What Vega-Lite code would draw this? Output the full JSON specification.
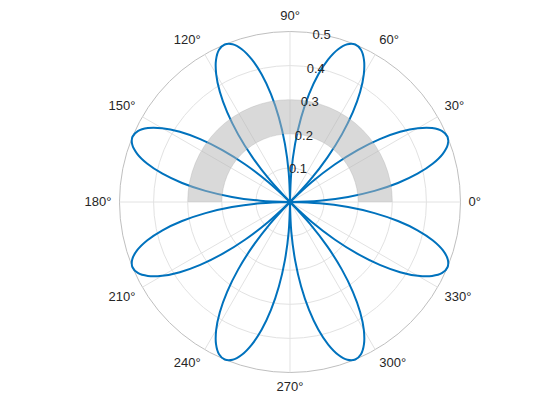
{
  "$schema": "https://vega.github.io/schema/vega-lite/v6.json",
  "width": 560,
  "height": 420,
  "autosize": "none",
  "padding": 0,
  "background": "white",
  "config": {"view": {"stroke": null}, "text": {"font": "Liberation Sans", "fontSize": 13, "color": "#262626"}},
  "datasets": {
    "circles": [{"r": 0.1}, {"r": 0.2}, {"r": 0.3}, {"r": 0.4}, {"r": 0.5}],
    "spokes": [
      {"x": -0.5, "y": 0, "x2": 0.5, "y2": 0},
      {"x": -0.43301, "y": -0.25, "x2": 0.43301, "y2": 0.25},
      {"x": -0.25, "y": -0.43301, "x2": 0.25, "y2": 0.43301},
      {"x": 0, "y": -0.5, "x2": 0, "y2": 0.5},
      {"x": 0.25, "y": -0.43301, "x2": -0.25, "y2": 0.43301},
      {"x": 0.43301, "y": -0.25, "x2": -0.43301, "y2": 0.25}
    ],
    "region": [{"t1": 0, "t2": 180, "r1": 0.2, "r2": 0.3}],
    "tlabels": [
      {"a": 0, "t": "0°", "x": 0.5235, "y": 0},
      {"a": 30, "t": "30°", "x": 0.4534, "y": 0.2618},
      {"a": 60, "t": "60°", "x": 0.2618, "y": 0.4534},
      {"a": 90, "t": "90°", "x": 0, "y": 0.5235},
      {"a": 120, "t": "120°", "x": -0.2618, "y": 0.4534},
      {"a": 150, "t": "150°", "x": -0.4534, "y": 0.2618},
      {"a": 180, "t": "180°", "x": -0.5235, "y": 0},
      {"a": 210, "t": "210°", "x": -0.4534, "y": -0.2618},
      {"a": 240, "t": "240°", "x": -0.2618, "y": -0.4534},
      {"a": 270, "t": "270°", "x": 0, "y": -0.5235},
      {"a": 300, "t": "300°", "x": 0.2618, "y": -0.4534},
      {"a": 330, "t": "330°", "x": 0.4534, "y": -0.2618}
    ],
    "rlabels": [
      {"t": "0.1", "x": 0.017365, "y": 0.098481},
      {"t": "0.2", "x": 0.03473, "y": 0.19696},
      {"t": "0.3", "x": 0.05209, "y": 0.29544},
      {"t": "0.4", "x": 0.06946, "y": 0.39392},
      {"t": "0.5", "x": 0.08682, "y": 0.4924}
    ],
    "rose": [
      {"p":0,"i":0,"x":0,"y":0},{"p":0,"i":1,"x":0.08674,"y":0.00379},{"p":0,"i":2,"x":0.17036,"y":0.01491},{"p":0,"i":3,"x":0.24786,"y":0.03263},{"p":0,"i":4,"x":0.31651,"y":0.05581},{"p":0,"i":5,"x":0.37394,"y":0.0829},{"p":0,"i":6,"x":0.41826,"y":0.11207},{"p":0,"i":7,"x":0.44811,"y":0.14129},{"p":0,"i":8,"x":0.4627,"y":0.16841},{"p":0,"i":9,"x":0.46194,"y":0.19134},{"p":0,"i":10,"x":0.44627,"y":0.2081},{"p":0,"i":11,"x":0.41676,"y":0.21695},{"p":0,"i":12,"x":0.375,"y":0.21651},{"p":0,"i":13,"x":0.32304,"y":0.2058},{"p":0,"i":14,"x":0.26327,"y":0.18434},{"p":0,"i":15,"x":0.19834,"y":0.15219},{"p":0,"i":16,"x":0.131,"y":0.10992},{"p":0,"i":17,"x":0.06401,"y":0.05865},{"p":0,"i":18,"x":0,"y":0},
      {"p":1,"i":0,"x":0,"y":0},{"p":1,"i":1,"x":0.00379,"y":0.08674},{"p":1,"i":2,"x":0.01491,"y":0.17036},{"p":1,"i":3,"x":0.03263,"y":0.24786},{"p":1,"i":4,"x":0.05581,"y":0.31651},{"p":1,"i":5,"x":0.0829,"y":0.37394},{"p":1,"i":6,"x":0.11207,"y":0.41826},{"p":1,"i":7,"x":0.14129,"y":0.44811},{"p":1,"i":8,"x":0.16841,"y":0.4627},{"p":1,"i":9,"x":0.19134,"y":0.46194},{"p":1,"i":10,"x":0.2081,"y":0.44627},{"p":1,"i":11,"x":0.21695,"y":0.41676},{"p":1,"i":12,"x":0.21651,"y":0.375},{"p":1,"i":13,"x":0.2058,"y":0.32304},{"p":1,"i":14,"x":0.18434,"y":0.26327},{"p":1,"i":15,"x":0.15219,"y":0.19834},{"p":1,"i":16,"x":0.10992,"y":0.131},{"p":1,"i":17,"x":0.05865,"y":0.06401},{"p":1,"i":18,"x":0,"y":0},
      {"p":2,"i":0,"x":0,"y":0},{"p":2,"i":1,"x":-0.00379,"y":0.08674},{"p":2,"i":2,"x":-0.01491,"y":0.17036},{"p":2,"i":3,"x":-0.03263,"y":0.24786},{"p":2,"i":4,"x":-0.05581,"y":0.31651},{"p":2,"i":5,"x":-0.0829,"y":0.37394},{"p":2,"i":6,"x":-0.11207,"y":0.41826},{"p":2,"i":7,"x":-0.14129,"y":0.44811},{"p":2,"i":8,"x":-0.16841,"y":0.4627},{"p":2,"i":9,"x":-0.19134,"y":0.46194},{"p":2,"i":10,"x":-0.2081,"y":0.44627},{"p":2,"i":11,"x":-0.21695,"y":0.41676},{"p":2,"i":12,"x":-0.21651,"y":0.375},{"p":2,"i":13,"x":-0.2058,"y":0.32304},{"p":2,"i":14,"x":-0.18434,"y":0.26327},{"p":2,"i":15,"x":-0.15219,"y":0.19834},{"p":2,"i":16,"x":-0.10992,"y":0.131},{"p":2,"i":17,"x":-0.05865,"y":0.06401},{"p":2,"i":18,"x":0,"y":0},
      {"p":3,"i":0,"x":0,"y":0},{"p":3,"i":1,"x":-0.08674,"y":0.00379},{"p":3,"i":2,"x":-0.17036,"y":0.01491},{"p":3,"i":3,"x":-0.24786,"y":0.03263},{"p":3,"i":4,"x":-0.31651,"y":0.05581},{"p":3,"i":5,"x":-0.37394,"y":0.0829},{"p":3,"i":6,"x":-0.41826,"y":0.11207},{"p":3,"i":7,"x":-0.44811,"y":0.14129},{"p":3,"i":8,"x":-0.4627,"y":0.16841},{"p":3,"i":9,"x":-0.46194,"y":0.19134},{"p":3,"i":10,"x":-0.44627,"y":0.2081},{"p":3,"i":11,"x":-0.41676,"y":0.21695},{"p":3,"i":12,"x":-0.375,"y":0.21651},{"p":3,"i":13,"x":-0.32304,"y":0.2058},{"p":3,"i":14,"x":-0.26327,"y":0.18434},{"p":3,"i":15,"x":-0.19834,"y":0.15219},{"p":3,"i":16,"x":-0.131,"y":0.10992},{"p":3,"i":17,"x":-0.06401,"y":0.05865},{"p":3,"i":18,"x":0,"y":0},
      {"p":4,"i":0,"x":0,"y":0},{"p":4,"i":1,"x":-0.08674,"y":-0.00379},{"p":4,"i":2,"x":-0.17036,"y":-0.01491},{"p":4,"i":3,"x":-0.24786,"y":-0.03263},{"p":4,"i":4,"x":-0.31651,"y":-0.05581},{"p":4,"i":5,"x":-0.37394,"y":-0.0829},{"p":4,"i":6,"x":-0.41826,"y":-0.11207},{"p":4,"i":7,"x":-0.44811,"y":-0.14129},{"p":4,"i":8,"x":-0.4627,"y":-0.16841},{"p":4,"i":9,"x":-0.46194,"y":-0.19134},{"p":4,"i":10,"x":-0.44627,"y":-0.2081},{"p":4,"i":11,"x":-0.41676,"y":-0.21695},{"p":4,"i":12,"x":-0.375,"y":-0.21651},{"p":4,"i":13,"x":-0.32304,"y":-0.2058},{"p":4,"i":14,"x":-0.26327,"y":-0.18434},{"p":4,"i":15,"x":-0.19834,"y":-0.15219},{"p":4,"i":16,"x":-0.131,"y":-0.10992},{"p":4,"i":17,"x":-0.06401,"y":-0.05865},{"p":4,"i":18,"x":0,"y":0},
      {"p":5,"i":0,"x":0,"y":0},{"p":5,"i":1,"x":-0.00379,"y":-0.08674},{"p":5,"i":2,"x":-0.01491,"y":-0.17036},{"p":5,"i":3,"x":-0.03263,"y":-0.24786},{"p":5,"i":4,"x":-0.05581,"y":-0.31651},{"p":5,"i":5,"x":-0.0829,"y":-0.37394},{"p":5,"i":6,"x":-0.11207,"y":-0.41826},{"p":5,"i":7,"x":-0.14129,"y":-0.44811},{"p":5,"i":8,"x":-0.16841,"y":-0.4627},{"p":5,"i":9,"x":-0.19134,"y":-0.46194},{"p":5,"i":10,"x":-0.2081,"y":-0.44627},{"p":5,"i":11,"x":-0.21695,"y":-0.41676},{"p":5,"i":12,"x":-0.21651,"y":-0.375},{"p":5,"i":13,"x":-0.2058,"y":-0.32304},{"p":5,"i":14,"x":-0.18434,"y":-0.26327},{"p":5,"i":15,"x":-0.15219,"y":-0.19834},{"p":5,"i":16,"x":-0.10992,"y":-0.131},{"p":5,"i":17,"x":-0.05865,"y":-0.06401},{"p":5,"i":18,"x":0,"y":0},
      {"p":6,"i":0,"x":0,"y":0},{"p":6,"i":1,"x":0.00379,"y":-0.08674},{"p":6,"i":2,"x":0.01491,"y":-0.17036},{"p":6,"i":3,"x":0.03263,"y":-0.24786},{"p":6,"i":4,"x":0.05581,"y":-0.31651},{"p":6,"i":5,"x":0.0829,"y":-0.37394},{"p":6,"i":6,"x":0.11207,"y":-0.41826},{"p":6,"i":7,"x":0.14129,"y":-0.44811},{"p":6,"i":8,"x":0.16841,"y":-0.4627},{"p":6,"i":9,"x":0.19134,"y":-0.46194},{"p":6,"i":10,"x":0.2081,"y":-0.44627},{"p":6,"i":11,"x":0.21695,"y":-0.41676},{"p":6,"i":12,"x":0.21651,"y":-0.375},{"p":6,"i":13,"x":0.2058,"y":-0.32304},{"p":6,"i":14,"x":0.18434,"y":-0.26327},{"p":6,"i":15,"x":0.15219,"y":-0.19834},{"p":6,"i":16,"x":0.10992,"y":-0.131},{"p":6,"i":17,"x":0.05865,"y":-0.06401},{"p":6,"i":18,"x":0,"y":0},
      {"p":7,"i":0,"x":0,"y":0},{"p":7,"i":1,"x":0.08674,"y":-0.00379},{"p":7,"i":2,"x":0.17036,"y":-0.01491},{"p":7,"i":3,"x":0.24786,"y":-0.03263},{"p":7,"i":4,"x":0.31651,"y":-0.05581},{"p":7,"i":5,"x":0.37394,"y":-0.0829},{"p":7,"i":6,"x":0.41826,"y":-0.11207},{"p":7,"i":7,"x":0.44811,"y":-0.14129},{"p":7,"i":8,"x":0.4627,"y":-0.16841},{"p":7,"i":9,"x":0.46194,"y":-0.19134},{"p":7,"i":10,"x":0.44627,"y":-0.2081},{"p":7,"i":11,"x":0.41676,"y":-0.21695},{"p":7,"i":12,"x":0.375,"y":-0.21651},{"p":7,"i":13,"x":0.32304,"y":-0.2058},{"p":7,"i":14,"x":0.26327,"y":-0.18434},{"p":7,"i":15,"x":0.19834,"y":-0.15219},{"p":7,"i":16,"x":0.131,"y":-0.10992},{"p":7,"i":17,"x":0.06401,"y":-0.05865},{"p":7,"i":18,"x":0,"y":0}
    ]
  },
  "layer": [
    {
      "data": {"name": "circles"},
      "mark": {"type": "arc", "theta": 0, "theta2": 6.2832, "filled": false, "strokeWidth": 1},
      "encoding": {
        "x": {"datum": 0, "type": "quantitative", "scale": {"domain": [-0.85044, 0.79179], "nice": false, "zero": false}, "axis": null},
        "y": {"datum": 0, "type": "quantitative", "scale": {"domain": [-0.6393, 0.59238], "nice": false, "zero": false}, "axis": null},
        "radius": {"field": "r", "type": "quantitative", "stack": null, "scale": {"type": "linear", "domain": [0, 0.5], "range": [0, 170.5], "zero": true, "nice": false}},
        "stroke": {"condition": {"test": "datum.r == 0.5", "value": "#bfbfbf"}, "value": "#e2e2e2"}
      }
    },
    {
      "data": {"name": "spokes"},
      "mark": {"type": "rule", "stroke": "#e2e2e2", "strokeWidth": 1},
      "encoding": {
        "x": {"field": "x", "type": "quantitative"},
        "y": {"field": "y", "type": "quantitative"},
        "x2": {"field": "x2"},
        "y2": {"field": "y2"}
      }
    },
    {
      "data": {"name": "rose"},
      "mark": {"type": "line", "stroke": "#0072BD", "strokeWidth": 2, "interpolate": "catmull-rom"},
      "encoding": {
        "x": {"field": "x", "type": "quantitative"},
        "y": {"field": "y", "type": "quantitative"},
        "detail": {"field": "p"},
        "order": {"field": "i", "type": "quantitative"}
      }
    },
    {
      "data": {"name": "region"},
      "mark": {"type": "arc", "fill": "#b3b3b3", "fillOpacity": 0.5, "stroke": null},
      "encoding": {
        "x": {"datum": 0, "type": "quantitative"},
        "y": {"datum": 0, "type": "quantitative"},
        "theta": {"field": "t1", "type": "quantitative", "stack": null, "scale": {"type": "linear", "domain": [0, 360], "range": [1.5708, -4.7124], "zero": false, "nice": false}},
        "theta2": {"field": "t2"},
        "radius": {"field": "r2", "type": "quantitative", "stack": null},
        "radius2": {"field": "r1"}
      }
    },
    {
      "data": {"name": "rlabels"},
      "mark": {"type": "text", "align": "center", "baseline": "middle", "dx": 2, "dy": 1},
      "encoding": {
        "x": {"field": "x", "type": "quantitative"},
        "y": {"field": "y", "type": "quantitative"},
        "text": {"field": "t"}
      }
    },
    {
      "data": {"name": "tlabels"},
      "mark": {
        "type": "text",
        "align": {"expr": "datum.a == 90 || datum.a == 270 ? 'center' : (datum.a > 90 && datum.a < 270 ? 'right' : 'left')"},
        "baseline": {"expr": "datum.a == 0 || datum.a == 180 ? 'middle' : (datum.a < 180 ? 'bottom' : 'top')"}
      },
      "encoding": {
        "x": {"field": "x", "type": "quantitative"},
        "y": {"field": "y", "type": "quantitative"},
        "text": {"field": "t"}
      }
    }
  ]
}
